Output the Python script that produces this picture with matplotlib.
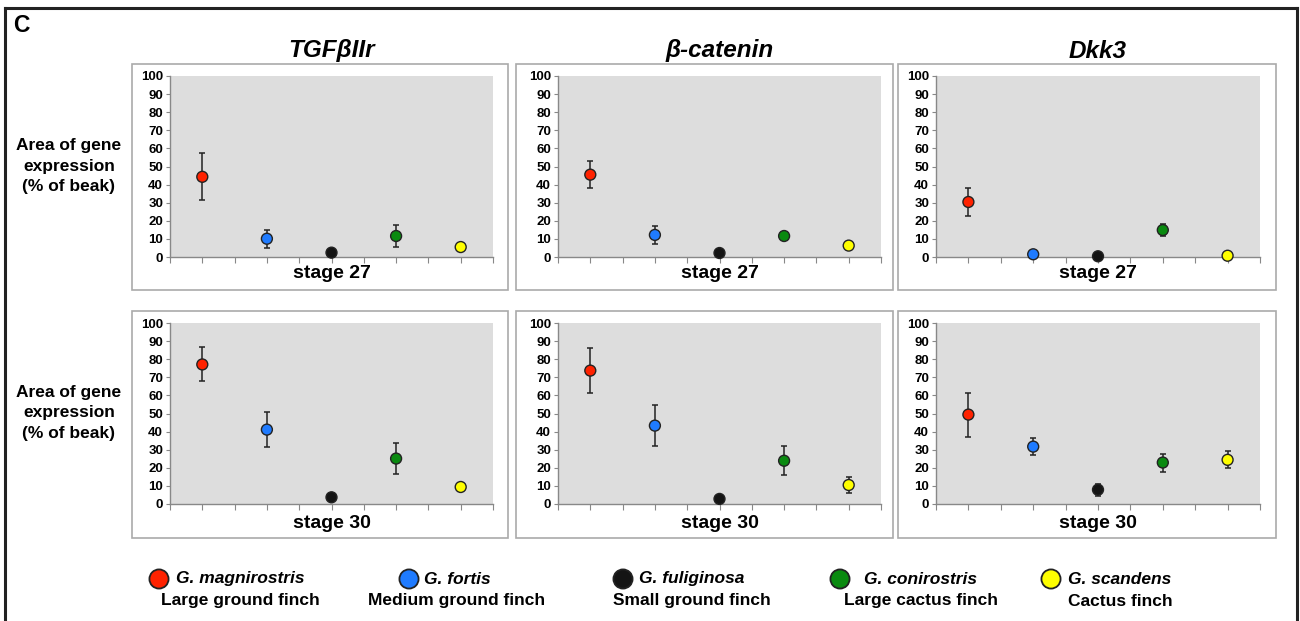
import matplotlib.pyplot as plt
from matplotlib.patches import Rectangle
from matplotlib.lines import Line2D

plt.rcParams['font.family'] = ['Liberation Sans', 'DejaVu Sans']

W, H = 1300, 621

genes = ["TGFβIIr", "β-catenin", "Dkk3"]
stages = ["stage 27", "stage 30"]
species = ["G. magnirostris", "G. fortis", "G. fuliginosa", "G. conirostris", "G. scandens"]
common_names = ["Large ground finch", "Medium ground finch", "Small ground finch",
                "Large cactus finch", "Cactus finch"]
colors = ["#ff2200", "#1f7bff", "#141414", "#0a8a10", "#ffff00"]
yticks = [0, 10, 20, 30, 40, 50, 60, 70, 80, 90, 100]

# area of gene expression (% of beak), one value per species
tgfb_s27 = [44.3, 10.1, 2.4, 11.6, 5.5]
tgfb_s27_err = [13.0, 5.0, 0, 6.3, 0]
tgfb_s30 = [77.1, 41.1, 3.7, 25.1, 9.4]
tgfb_s30_err = [9.4, 9.5, 0, 8.8, 2.3]
bcat_s27 = [45.5, 12.2, 2.2, 11.6, 6.3]
bcat_s27_err = [7.6, 5.0, 0, 1.9, 0]
bcat_s30 = [73.7, 43.3, 2.8, 23.9, 10.5]
bcat_s30_err = [12.4, 11.5, 0, 7.9, 4.3]
dkk3_s27 = [30.4, 1.5, 0.4, 14.9, 0.7]
dkk3_s27_err = [7.6, 0, 0, 3.1, 0]
dkk3_s30 = [49.4, 31.7, 7.9, 22.9, 24.4]
dkk3_s30_err = [12.2, 4.8, 3.4, 5.0, 4.7]

panels = [
    [(tgfb_s27, tgfb_s27_err), (bcat_s27, bcat_s27_err), (dkk3_s27, dkk3_s27_err)],
    [(tgfb_s30, tgfb_s30_err), (bcat_s30, bcat_s30_err), (dkk3_s30, dkk3_s30_err)],
]


def fx(x):
    return x / W


def fy(y):
    return 1 - y / H


def rect(l, t, r, b):
    return [fx(l), fy(b), fx(r) - fx(l), fy(t) - fy(b)]


fig = plt.figure(figsize=(13, 6.21), dpi=100)

# outer frame (bottom edge runs off the image)
for xs, ys in [([5, 5], [700, 8]), ([5, 1297], [8, 8]), ([1297, 1297], [8, 700])]:
    fig.add_artist(Line2D([fx(v) for v in xs], [fy(v) for v in ys], color="#222222", lw=2.2))

fig.text(fx(13), fy(25), "C", fontsize=16.5, fontweight="bold", va="center", ha="left")

col_plot = [(170, 493), (558, 881), (936, 1260)]
col_box = [(132, 508), (516, 893), (898, 1276)]
row_plot = [(76, 257), (323, 504)]
row_box = [(64, 290), (311, 538)]
stage_y = [274, 523]
ylabel_y = [166, 413]

for j, g in enumerate(genes):
    cx = (col_plot[j][0] + col_plot[j][1]) / 2
    fig.text(fx(cx), fy(51), g, fontsize=17.5, fontweight="bold", style="italic",
             ha="center", va="center")

x = [1, 2, 3, 4, 5]
for i in range(2):
    fig.text(fx(69), fy(ylabel_y[i]), "Area of gene\nexpression\n(% of beak)",
             fontsize=12.5, fontweight="bold", ha="center", va="center", linespacing=1.45)
    for j in range(3):
        bl, br = col_box[j]
        bt, bb = row_box[i]
        fig.add_artist(Rectangle((fx(bl), fy(bb)), fx(br) - fx(bl), fy(bt) - fy(bb),
                                 transform=fig.transFigure, facecolor="white",
                                 edgecolor="#aaaaaa", lw=1.2, zorder=0))
        pl, pr = col_plot[j]
        pt, pb = row_plot[i]
        ax = fig.add_axes(rect(pl, pt, pr, pb))
        ax.set_facecolor("#dddddd")
        vals, errs = panels[i][j]
        ax.errorbar(x, vals, yerr=errs, fmt="none", ecolor="#222222", elinewidth=1.1,
                    capsize=2, capthick=1.1, zorder=2)
        ax.scatter(x, vals, s=62, c=colors, edgecolors="#222222", linewidths=1.0,
                   zorder=3, clip_on=False)
        ax.set_xlim(0.5, 5.5)
        ax.set_ylim(0, 100)
        ax.set_yticks(yticks)
        ax.set_xticks([0.5 + 0.5 * k for k in range(11)])
        ax.set_xticklabels([])
        for s in ["top", "right"]:
            ax.spines[s].set_visible(False)
        for s in ["left", "bottom"]:
            ax.spines[s].set_color("#888888")
            ax.spines[s].set_linewidth(1.0)
        ax.tick_params(axis="y", length=3, width=0.8, color="#888888", pad=2,
                       labelsize=9.5)
        ax.tick_params(axis="x", length=4, width=0.8, color="#888888")
        for lab in ax.get_yticklabels():
            lab.set_fontweight("bold")
        fig.text(fx((pl + pr) / 2), fy(stage_y[i]), stages[i], fontsize=14,
                 fontweight="bold", ha="center", va="center")

# legend
leg = fig.add_axes([0, 0, 1, 1], zorder=5)
leg.set_xlim(0, W)
leg.set_ylim(H, 0)
leg.axis("off")
dot_x = [159, 409, 623, 840, 1051]
text_cx = [240, 457, 692, 921, 1120]
leg.scatter(dot_x, [579] * 5, s=190, c=colors, edgecolors="#222222", linewidths=1.3)
for k in range(5):
    leg.text(text_cx[k], 579, species[k], fontsize=12.5, fontweight="bold", style="italic",
             ha="center", va="center")
    leg.text(text_cx[k], 601, common_names[k], fontsize=12.5, fontweight="bold",
             ha="center", va="center")

fig.savefig("out.png", dpi=100)
